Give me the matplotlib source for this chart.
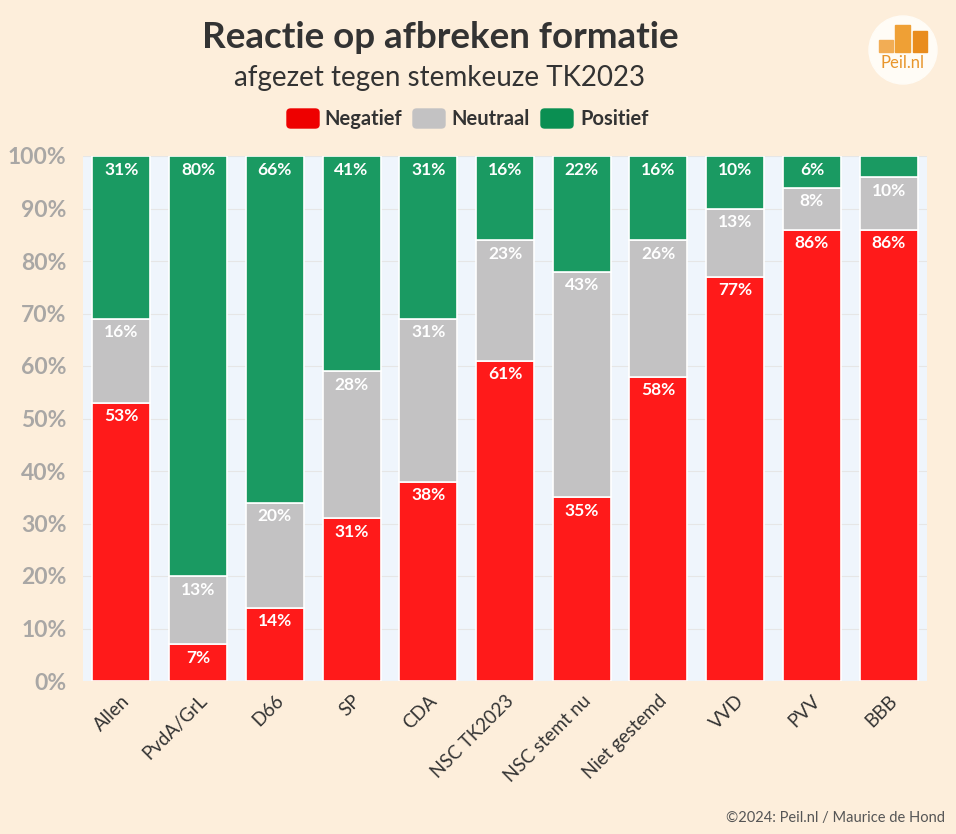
import matplotlib.pyplot as plt
from matplotlib.patches import Circle, Rectangle, FancyBboxPatch
import numpy as np

plt.rcParams['font.family'] = ['Lato', 'DejaVu Sans']

categories = ['Allen', 'PvdA/GrL', 'D66', 'SP', 'CDA', 'NSC TK2023',
              'NSC stemt nu', 'Niet gestemd', 'VVD', 'PVV', 'BBB']
negatief = [53, 7, 14, 31, 38, 61, 35, 58, 77, 86, 86]
neutraal = [16, 13, 20, 28, 31, 23, 43, 26, 13, 8, 10]
positief = [31, 80, 66, 41, 31, 16, 22, 16, 10, 6, 4]

series = [('Negatief', negatief, '#ff1a1a'),
          ('Neutraal', neutraal, '#c3c2c3'),
          ('Positief', positief, '#1a9a62')]

bg = '#fdeedb'
fig = plt.figure(figsize=(9.56, 8.34), dpi=100, facecolor=bg)
ax = fig.add_axes([83 / 956, 1 - 681 / 834, 844 / 956, 525 / 834])
ax.set_facecolor('#eff5fc')

x = np.arange(len(categories))
bottom = np.zeros(len(categories))
for name, vals, col in series:
    vals = np.array(vals, dtype=float)
    ax.bar(x, vals, bottom=bottom, width=0.755, color=col,
           edgecolor='white', linewidth=1.2, zorder=3)
    for xi, b, v in zip(x, bottom, vals):
        if v >= 5:
            ax.text(xi, b + v - 2.6, f'{int(v)}%', ha='center', va='center',
                    color='white', fontsize=12.5, fontweight='bold', zorder=4)
    bottom += vals

ax.set_xlim(-0.5, len(categories) - 0.5)
ax.set_ylim(0, 100)
ax.set_yticks(range(0, 101, 10))
ax.set_yticklabels([f'{v}%' for v in range(0, 101, 10)],
                   fontsize=16.5, fontweight='bold', color='#a9a7a5')
ax.set_xticks(x)
ax.set_xticklabels(categories, rotation=45, ha='right', rotation_mode='anchor',
                   fontsize=13.5, color='#333333')
ax.tick_params(length=0, pad=12)
ax.tick_params(axis='x', pad=8)
ax.grid(axis='y', color='#e6e6e6', linewidth=0.8, zorder=0)
for s in ax.spines.values():
    s.set_visible(False)

fig.text(440 / 956, 1 - 37 / 834, 'Reactie op afbreken formatie', ha='center',
         va='center', fontsize=26.5, fontweight='bold', color='#333333')
fig.text(440 / 956, 1 - 78 / 834, 'afgezet tegen stemkeuze TK2023', ha='center',
         va='center', fontsize=20, color='#333333')

# legend
leg_items = [('Negatief', '#ee0000', 287, 324), ('Neutraal', '#c3c2c3', 413, 451),
             ('Positief', '#0a8f52', 541, 580)]
for name, col, px, tx in leg_items:
    fig.patches.append(FancyBboxPatch((px / 956, 1 - 128 / 834), 32 / 956, 19 / 834,
                                      boxstyle='round,pad=0,rounding_size=0.004',
                                      transform=fig.transFigure, color=col))
    fig.text(tx / 956, 1 - 119 / 834, name, ha='left', va='center',
             fontsize=14.5, fontweight='bold', color='#333333')

# logo
logo_ax = fig.add_axes([(903 - 40) / 956, 1 - (50 + 40) / 834, 80 / 956, 80 / 834])
logo_ax.set_xlim(-40, 40)
logo_ax.set_ylim(40, -40)
logo_ax.axis('off')
logo_ax.add_patch(Circle((0, 0), 34, color='#fffcf6'))
logo_ax.add_patch(Rectangle((-24, -10), 14, 12, color='#f2ad55'))
logo_ax.add_patch(Rectangle((-8, -25), 15, 27, color='#efa035'))
logo_ax.add_patch(Rectangle((10, -19), 14, 21, color='#e98c1d'))
logo_ax.text(0, 13, 'Peil.nl', ha='center', va='center', fontsize=12, color='#e8962c')

fig.text(945 / 956, 1 - 818 / 834, '©2024: Peil.nl / Maurice de Hond', ha='right',
         va='center', fontsize=10.5, color='#555555')

fig.savefig('out.png', dpi=100, facecolor=bg)
